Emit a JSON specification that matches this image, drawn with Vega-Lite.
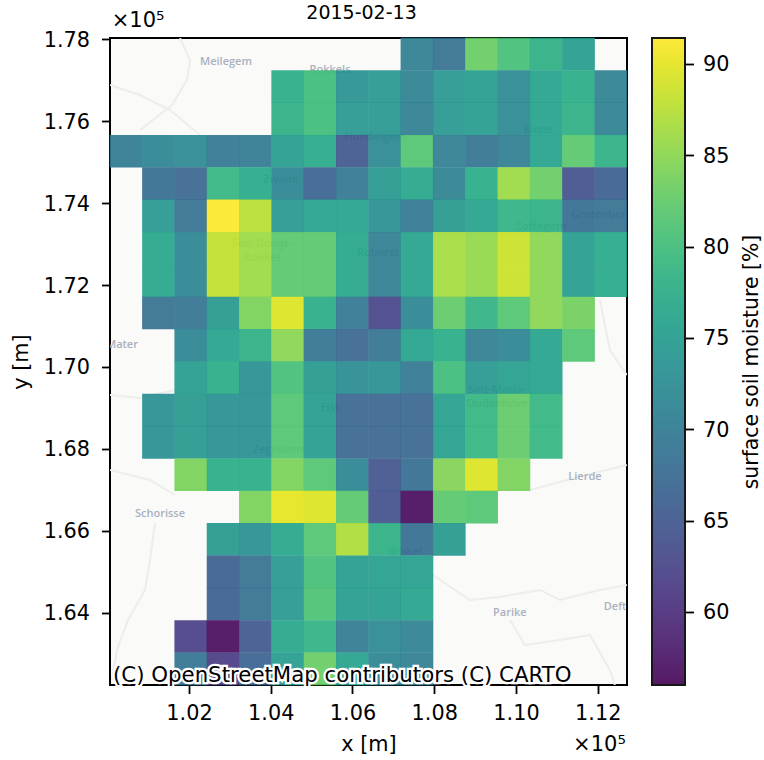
{
"$schema":"https://vega.github.io/schema/vega-lite/v6.json",
"width":517,"height":647,
"autosize":"none",
"padding":{"left":110,"top":38,"right":137,"bottom":75},
"background":"white",
"title":{"text":"2015-02-13","font":"DejaVu Sans","fontSize":19,"fontWeight":"normal","color":"black","anchor":"middle","offset":-13,"dx":-7},
"config":{"view":{"stroke":"black","strokeWidth":2,"fill":"#fafaf8"},
"axis":{"labelFont":"DejaVu Sans","titleFont":"DejaVu Sans","labelFontSize":20.8,"titleFontSize":20.8,"titleFontWeight":"normal","labelColor":"black","titleColor":"black","tickColor":"black","tickSize":8.5,"tickWidth":1.8,"grid":false,"domain":false,"labelPadding":7}},
"datasets":{
"cells":[
{"x":107577,"y":177637,"v":70.5},{"x":108368,"y":177637,"v":68.5},{"x":109158,"y":177637,"v":83},{"x":109949,"y":177637,"v":80.5},{"x":110739,"y":177637,"v":78},{"x":111530,"y":177637,"v":75},
{"x":104415,"y":176847,"v":77.5},{"x":105205,"y":176847,"v":80},{"x":105996,"y":176847,"v":73.5},{"x":106787,"y":176847,"v":74},{"x":107577,"y":176847,"v":71},{"x":108368,"y":176847,"v":74},{"x":109158,"y":176847,"v":75},{"x":109949,"y":176847,"v":72},{"x":110739,"y":176847,"v":76},{"x":111530,"y":176847,"v":77.5},{"x":112321,"y":176847,"v":71},
{"x":104415,"y":176057,"v":78},{"x":105205,"y":176057,"v":80},{"x":105996,"y":176057,"v":74},{"x":106787,"y":176057,"v":74},{"x":107577,"y":176057,"v":70.5},{"x":108368,"y":176057,"v":74},{"x":109158,"y":176057,"v":75},{"x":109949,"y":176057,"v":72},{"x":110739,"y":176057,"v":76},{"x":111530,"y":176057,"v":78},{"x":112321,"y":176057,"v":71},
{"x":100462,"y":175267,"v":70},{"x":101253,"y":175267,"v":71.5},{"x":102043,"y":175267,"v":72},{"x":102834,"y":175267,"v":69.5},{"x":103624,"y":175267,"v":70},{"x":104415,"y":175267,"v":75},{"x":105205,"y":175267,"v":77},{"x":105996,"y":175267,"v":65},{"x":106787,"y":175267,"v":72},{"x":107577,"y":175267,"v":81.5},{"x":108368,"y":175267,"v":70.5},{"x":109158,"y":175267,"v":69},{"x":109949,"y":175267,"v":70.5},{"x":110739,"y":175267,"v":76},{"x":111530,"y":175267,"v":82},{"x":112321,"y":175267,"v":78},
{"x":101253,"y":174477,"v":68},{"x":102043,"y":174477,"v":67},{"x":102834,"y":174477,"v":79},{"x":103624,"y":174477,"v":77},{"x":104415,"y":174477,"v":71.5},{"x":105205,"y":174477,"v":66.5},{"x":105996,"y":174477,"v":69.5},{"x":106787,"y":174477,"v":74.5},{"x":107577,"y":174477,"v":76.5},{"x":108368,"y":174477,"v":71},{"x":109158,"y":174477,"v":77.5},{"x":109949,"y":174477,"v":86},{"x":110739,"y":174477,"v":83},{"x":111530,"y":174477,"v":64},{"x":112321,"y":174477,"v":66},
{"x":101253,"y":173687,"v":74},{"x":102043,"y":173687,"v":68.5},{"x":102834,"y":173687,"v":91.4},{"x":103624,"y":173687,"v":87.5},{"x":104415,"y":173687,"v":74},{"x":105205,"y":173687,"v":76},{"x":105996,"y":173687,"v":76},{"x":106787,"y":173687,"v":73},{"x":107577,"y":173687,"v":69.5},{"x":108368,"y":173687,"v":74.5},{"x":109158,"y":173687,"v":76},{"x":109949,"y":173687,"v":78.5},{"x":110739,"y":173687,"v":78},{"x":111530,"y":173687,"v":68},{"x":112321,"y":173687,"v":68.5},
{"x":101253,"y":172897,"v":76.5},{"x":102043,"y":172897,"v":71.5},{"x":102834,"y":172897,"v":88},{"x":103624,"y":172897,"v":86},{"x":104415,"y":172897,"v":82},{"x":105205,"y":172897,"v":82},{"x":105996,"y":172897,"v":76.5},{"x":106787,"y":172897,"v":70.5},{"x":107577,"y":172897,"v":76},{"x":108368,"y":172897,"v":86.5},{"x":109158,"y":172897,"v":85.5},{"x":109949,"y":172897,"v":88.5},{"x":110739,"y":172897,"v":85},{"x":111530,"y":172897,"v":75},{"x":112321,"y":172897,"v":77},
{"x":101253,"y":172107,"v":76.5},{"x":102043,"y":172107,"v":71.5},{"x":102834,"y":172107,"v":88},{"x":103624,"y":172107,"v":86},{"x":104415,"y":172107,"v":82},{"x":105205,"y":172107,"v":82},{"x":105996,"y":172107,"v":76.5},{"x":106787,"y":172107,"v":70.5},{"x":107577,"y":172107,"v":76},{"x":108368,"y":172107,"v":86.5},{"x":109158,"y":172107,"v":85.5},{"x":109949,"y":172107,"v":88.5},{"x":110739,"y":172107,"v":85},{"x":111530,"y":172107,"v":75},{"x":112321,"y":172107,"v":77},
{"x":101253,"y":171317,"v":68.5},{"x":102043,"y":171317,"v":69},{"x":102834,"y":171317,"v":74.5},{"x":103624,"y":171317,"v":84},{"x":104415,"y":171317,"v":89.5},{"x":105205,"y":171317,"v":77.5},{"x":105996,"y":171317,"v":69.5},{"x":106787,"y":171317,"v":62.5},{"x":107577,"y":171317,"v":71.5},{"x":108368,"y":171317,"v":82.5},{"x":109158,"y":171317,"v":78.5},{"x":109949,"y":171317,"v":81.5},{"x":110739,"y":171317,"v":85},{"x":111530,"y":171317,"v":83.5},
{"x":102043,"y":170527,"v":71.5},{"x":102834,"y":170527,"v":76},{"x":103624,"y":170527,"v":78},{"x":104415,"y":170527,"v":85},{"x":105205,"y":170527,"v":69},{"x":105996,"y":170527,"v":67},{"x":106787,"y":170527,"v":69},{"x":107577,"y":170527,"v":76},{"x":108368,"y":170527,"v":77.5},{"x":109158,"y":170527,"v":70.5},{"x":109949,"y":170527,"v":71.5},{"x":110739,"y":170527,"v":76},{"x":111530,"y":170527,"v":81.5},
{"x":102043,"y":169737,"v":75},{"x":102834,"y":169737,"v":77.5},{"x":103624,"y":169737,"v":73},{"x":104415,"y":169737,"v":80.5},{"x":105205,"y":169737,"v":74.5},{"x":105996,"y":169737,"v":72.5},{"x":106787,"y":169737,"v":73},{"x":107577,"y":169737,"v":69.5},{"x":108368,"y":169737,"v":80},{"x":109158,"y":169737,"v":74},{"x":109949,"y":169737,"v":75.5},{"x":110739,"y":169737,"v":76},
{"x":101253,"y":168947,"v":73},{"x":102043,"y":168947,"v":74.5},{"x":102834,"y":168947,"v":73},{"x":103624,"y":168947,"v":73},{"x":104415,"y":168947,"v":81.5},{"x":105205,"y":168947,"v":75},{"x":105996,"y":168947,"v":67},{"x":106787,"y":168947,"v":67},{"x":107577,"y":168947,"v":67},{"x":108368,"y":168947,"v":75.5},{"x":109158,"y":168947,"v":79},{"x":109949,"y":168947,"v":82.5},{"x":110739,"y":168947,"v":79},
{"x":101253,"y":168157,"v":73},{"x":102043,"y":168157,"v":74.5},{"x":102834,"y":168157,"v":73},{"x":103624,"y":168157,"v":73},{"x":104415,"y":168157,"v":81.5},{"x":105205,"y":168157,"v":75},{"x":105996,"y":168157,"v":67},{"x":106787,"y":168157,"v":67},{"x":107577,"y":168157,"v":67},{"x":108368,"y":168157,"v":75.5},{"x":109158,"y":168157,"v":79},{"x":109949,"y":168157,"v":82.5},{"x":110739,"y":168157,"v":79},
{"x":102043,"y":167367,"v":84},{"x":102834,"y":167367,"v":77.5},{"x":103624,"y":167367,"v":77.5},{"x":104415,"y":167367,"v":84},{"x":105205,"y":167367,"v":81.5},{"x":105996,"y":167367,"v":71.5},{"x":106787,"y":167367,"v":64.5},{"x":107577,"y":167367,"v":68},{"x":108368,"y":167367,"v":84.5},{"x":109158,"y":167367,"v":89.5},{"x":109949,"y":167367,"v":84},
{"x":103624,"y":166577,"v":84},{"x":104415,"y":166577,"v":90},{"x":105205,"y":166577,"v":89.5},{"x":105996,"y":166577,"v":82},{"x":106787,"y":166577,"v":64},{"x":107577,"y":166577,"v":56.5},{"x":108368,"y":166577,"v":82},{"x":109158,"y":166577,"v":81.5},
{"x":102834,"y":165787,"v":74.5},{"x":103624,"y":165787,"v":73},{"x":104415,"y":165787,"v":76.5},{"x":105205,"y":165787,"v":81.5},{"x":105996,"y":165787,"v":87},{"x":106787,"y":165787,"v":78},{"x":107577,"y":165787,"v":68},{"x":108368,"y":165787,"v":74.5},
{"x":102834,"y":164997,"v":66},{"x":103624,"y":164997,"v":68.5},{"x":104415,"y":164997,"v":74},{"x":105205,"y":164997,"v":80.5},{"x":105996,"y":164997,"v":75},{"x":106787,"y":164997,"v":75.5},{"x":107577,"y":164997,"v":75.5},
{"x":102834,"y":164207,"v":66},{"x":103624,"y":164207,"v":68.5},{"x":104415,"y":164207,"v":74},{"x":105205,"y":164207,"v":81},{"x":105996,"y":164207,"v":75},{"x":106787,"y":164207,"v":75},{"x":107577,"y":164207,"v":76},
{"x":102043,"y":163417,"v":62},{"x":102834,"y":163417,"v":56.5},{"x":103624,"y":163417,"v":65},{"x":104415,"y":163417,"v":76.5},{"x":105205,"y":163417,"v":78.5},{"x":105996,"y":163417,"v":70},{"x":106787,"y":163417,"v":72},{"x":107577,"y":163417,"v":71},
{"x":102043,"y":162627,"v":69},{"x":102834,"y":162627,"v":61.5},{"x":103624,"y":162627,"v":66.5},{"x":104415,"y":162627,"v":75},{"x":105205,"y":162627,"v":83},{"x":105996,"y":162627,"v":76},{"x":106787,"y":162627,"v":71.5},{"x":107577,"y":162627,"v":70.5}
],
"roads":[
{"r":"a","i":1,"x":101779,"y":178032},{"r":"a","i":2,"x":102024,"y":177495},{"r":"a","i":3,"x":101950,"y":177006},{"r":"a","i":4,"x":101584,"y":176396},{"r":"a","i":5,"x":100801,"y":175785},
{"r":"b","i":1,"x":100067,"y":176884},{"r":"b","i":2,"x":100801,"y":176640},{"r":"b","i":3,"x":101535,"y":176274},{"r":"b","i":4,"x":102268,"y":175663},
{"r":"c","i":1,"x":101168,"y":166188},{"r":"c","i":2,"x":101045,"y":165285},{"r":"c","i":3,"x":100923,"y":164552},{"r":"c","i":4,"x":100507,"y":163819},{"r":"c","i":5,"x":100238,"y":163087},{"r":"c","i":6,"x":100116,"y":162354},
{"r":"d","i":1,"x":107968,"y":164918},{"r":"d","i":2,"x":108873,"y":164308},{"r":"d","i":3,"x":109606,"y":164381},{"r":"d","i":4,"x":110585,"y":164553},{"r":"d","i":5,"x":111074,"y":164308},{"r":"d","i":6,"x":112053,"y":164553},{"r":"d","i":7,"x":112713,"y":164675},
{"r":"e","i":1,"x":109851,"y":163819},{"r":"e","i":2,"x":110218,"y":163209},{"r":"e","i":3,"x":111074,"y":163332},{"r":"e","i":4,"x":111808,"y":163454},{"r":"e","i":5,"x":112297,"y":162599},{"r":"e","i":6,"x":112419,"y":162232},
{"r":"f","i":1,"x":110340,"y":166994},{"r":"f","i":2,"x":111441,"y":167287},{"r":"f","i":3,"x":112713,"y":167605},
{"r":"h","i":1,"x":100067,"y":169314},{"r":"h","i":2,"x":100801,"y":169241},{"r":"h","i":3,"x":101657,"y":169436},
{"r":"k","i":1,"x":100067,"y":167483},{"r":"k","i":2,"x":101045,"y":167238},{"r":"k","i":3,"x":101657,"y":166872},
{"r":"j","i":1,"x":112053,"y":171634},{"r":"j","i":2,"x":112297,"y":170413},{"r":"j","i":3,"x":112713,"y":169803}
],
"places":[
{"t":"Meilegem","x":102904,"y":177446},{"t":"Schorisse","x":101290,"y":166408},{"t":"Lierde","x":111686,"y":167312},{"t":"Parike","x":109851,"y":163990},{"t":"Deftinge","x":112700,"y":164137},{"t":"Mater","x":100360,"y":170535},{"t":"Zwalm","x":104250,"y":174564},{"t":"Sint-Denijs-\nBoekel","x":103785,"y":173000},{"t":"Elene","x":110536,"y":175785},{"t":"Zottegem","x":110609,"y":173417},{"t":"Grotenberge","x":112175,"y":173710},{"t":"Sint-Maria-\nOudenhove","x":109533,"y":169440},{"t":"Zegelsem","x":104176,"y":167971},{"t":"Elst","x":105448,"y":168997},{"t":"Brakel","x":107283,"y":165480},{"t":"Rokkels","x":105448,"y":177251},{"t":"Hundelgem","x":106549,"y":175614},{"t":"Roborst","x":106622,"y":172782}
],
"attribution":[{"t":"(C) OpenStreetMap contributors (C) CARTO","x":100140,"y":162208}],
"offsets":[{"t":"×10⁵","x":100110,"y":178210,"a":"top"},{"t":"×10⁵","x":112688,"y":160770,"a":"bottom"}],
"cbar":[{"m":56},{"m":91.42}]
},
"layer":[
{"layer":[
{"data":{"name":"roads"},"mark":{"type":"line","stroke":"#eceeec","strokeWidth":2,"clip":true},
 "encoding":{"x":{"field":"x","type":"quantitative","scale":{"domain":[100067,112716],"nice":false,"zero":false},
   "axis":{"values":[102000,104000,106000,108000,110000,112000],"labelExpr":"format(datum.value/100000,'.2f')","title":"x [m]","orient":"bottom","labelPadding":10,"titlePadding":11}},
  "y":{"field":"y","type":"quantitative","scale":{"domain":[162232,178032],"nice":false,"zero":false},
   "axis":{"values":[164000,166000,168000,170000,172000,174000,176000,178000],"labelExpr":"format(datum.value/100000,'.2f')","title":"y [m]","orient":"left","labelPadding":12,"labelOffset":1,"titlePadding":12}},
  "detail":{"field":"r"},"order":{"field":"i","type":"quantitative"}}},
{"data":{"name":"places"},"mark":{"type":"text","font":"Open Sans","fontSize":11,"fontWeight":600,"color":"#a9b0be","clip":true,"lineBreak":"\n","lineHeight":14},
 "encoding":{"x":{"field":"x","type":"quantitative"},"y":{"field":"y","type":"quantitative"},"text":{"field":"t"}}},
{"data":{"name":"cells"},"mark":{"type":"rect","width":32.7,"height":32.7,"opacity":0.9},
 "encoding":{"x":{"field":"x","type":"quantitative"},"y":{"field":"y","type":"quantitative"},
  "color":{"field":"v","type":"quantitative","scale":{"scheme":"viridis","domain":[56,91.42]},
   "legend":{"orient":"none","legendX":542,"legendY":0,"gradientLength":647,"gradientThickness":33,"gradientOpacity":0.9,"gradientStrokeColor":"black","gradientStrokeWidth":2,"title":null,"labelExpr":"''"}}}},
{"data":{"name":"attribution"},"mark":{"type":"text","font":"DejaVu Sans","fontSize":21.3,"align":"left","baseline":"bottom","color":"white","stroke":"white","strokeWidth":4.5},
 "encoding":{"x":{"field":"x","type":"quantitative"},"y":{"field":"y","type":"quantitative"},"text":{"field":"t"}}},
{"data":{"name":"attribution"},"mark":{"type":"text","font":"DejaVu Sans","fontSize":21.3,"align":"left","baseline":"bottom","color":"black"},
 "encoding":{"x":{"field":"x","type":"quantitative"},"y":{"field":"y","type":"quantitative"},"text":{"field":"t"}}},
{"data":{"name":"offsets"},"transform":[{"filter":"datum.a=='top'"}],"mark":{"type":"text","font":"DejaVu Sans","fontSize":21,"align":"left","baseline":"bottom","color":"black"},
 "encoding":{"x":{"field":"x","type":"quantitative"},"y":{"field":"y","type":"quantitative"},"text":{"field":"t"}}},
{"data":{"name":"offsets"},"transform":[{"filter":"datum.a=='bottom'"}],"mark":{"type":"text","font":"DejaVu Sans","fontSize":21,"align":"right","baseline":"middle","color":"black"},
 "encoding":{"x":{"field":"x","type":"quantitative"},"y":{"field":"y","type":"quantitative"},"text":{"field":"t"}}}
]},
{"data":{"name":"cbar"},"mark":{"type":"point","opacity":0},
 "encoding":{"y":{"field":"m","type":"quantitative","scale":{"domain":[56,91.42],"nice":false,"zero":false},
   "axis":{"orient":"right","offset":58,"values":[60,65,70,75,80,85,90],"title":"surface soil moisture [%]","titleAngle":-90,"titleBaseline":"top","labelPadding":9,"labelOffset":1,"titlePadding":13,"titleFontSize":20.4}}}}
],
"resolve":{"scale":{"y":"independent"},"axis":{"y":"independent"}}
}
